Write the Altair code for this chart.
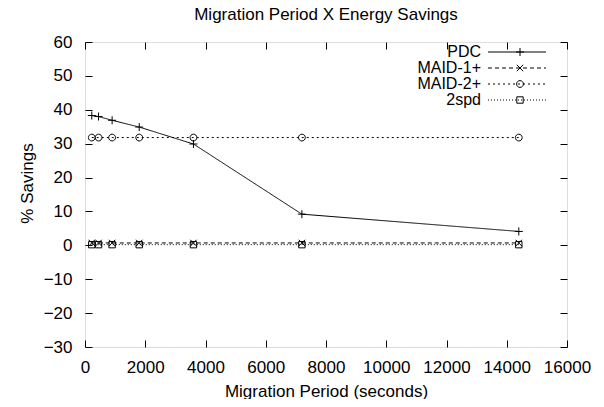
import altair as alt
import pandas as pd

# ---- data ----
periods = [225, 450, 900, 1800, 3600, 7200, 14400]
pdc = [38.3, 38.0, 36.9, 34.9, 29.9, 9.2, 4.1]
maid1 = [0.7, 0.7, 0.7, 0.7, 0.7, 0.7, 0.7]
maid2 = [31.8, 31.8, 31.8, 31.8, 31.8, 31.8, 31.8]
spd2 = [0.2, 0.2, 0.2, 0.2, 0.2, 0.2, 0.2]
series_names = ["PDC", "MAID-1+", "MAID-2+", "2spd"]
x_ticks = [0, 2000, 4000, 6000, 8000, 10000, 12000, 14000, 16000]
y_ticks = [-30, -20, -10, 0, 10, 20, 30, 40, 50, 60]

# marker keys: same names with a trailing space so the two legends stay separate
marker_names = [n + " " for n in series_names]

values = {"PDC": pdc, "MAID-1+": maid1, "MAID-2+": maid2, "2spd": spd2}
rows = []
for name, mname in zip(series_names, marker_names):
    for p, v in zip(periods, values[name]):
        rows.append({"period": p, "savings": v, "series": name, "series_m": mname})
df = pd.DataFrame(rows)

FONT = "Liberation Sans"
FS = 17
LFS = 16
W, H = 482, 305

dashes = [[1, 0], [4, 3], [2, 3], [1, 2]]
shapes = [
    "M-1,0L1,0M0,-1L0,1",
    "M-0.8,-0.8L0.8,0.8M-0.8,0.8L0.8,-0.8",
    "M0.85,0A0.85,0.85 0 1,1 -0.85,0A0.85,0.85 0 1,1 0.85,0Z",
    "M-0.8,-0.8L0.8,-0.8L0.8,0.8L-0.8,0.8Z",
]
# legend sample line drawn to the right of the (right-aligned) label, gnuplot style
sample_line = "M15,0L73,0"

xscale = alt.Scale(domain=[0, 16000], nice=False, zero=False)
yscale = alt.Scale(domain=[-30, 60], nice=False, zero=False)

common_axis = dict(
    offset=-7, tickSize=7, domain=False, grid=False, tickColor="black",
    labelColor="black", labelFont=FONT, labelFontSize=FS, labelFlush=False,
    labelOverlap=False, titleFont=FONT, titleFontSize=FS, titleFontWeight="normal",
    titleColor="black",
)

x_main = alt.X("period:Q", scale=xscale, axis=alt.Axis(
    orient="bottom", values=x_ticks, format="d", title="Migration Period (seconds)",
    labelPadding=12, titlePadding=8, **common_axis))
y_main = alt.Y("savings:Q", scale=yscale, axis=alt.Axis(
    orient="left", values=y_ticks, format="d", title="% Savings",
    labelPadding=13, titleX=-65, titleY=141, titleAlign="center",
    titleBaseline="middle", titleAngle=270, **common_axis))

x_mirror = alt.X("period:Q", scale=xscale, axis=alt.Axis(
    orient="top", values=x_ticks, labels=False, title=None, **common_axis))
y_mirror = alt.Y("savings:Q", scale=yscale, axis=alt.Axis(
    orient="right", values=y_ticks, labels=False, title=None, **common_axis))

lines = alt.Chart(df).mark_line(color="black", strokeWidth=1).encode(
    x=x_main,
    y=y_main,
    strokeDash=alt.StrokeDash(
        "series:N",
        scale=alt.Scale(domain=series_names, range=dashes),
        legend=alt.Legend(
            orient="none", legendX=380, legendY=2, title=None,
            symbolType=sample_line, symbolSize=4, symbolStrokeWidth=1,
            symbolStrokeColor="black", symbolFillColor="transparent",
            labelAlign="right", labelOffset=0,
            labelFont=FONT, labelFontSize=LFS, labelColor="black",
            rowPadding=0, padding=0,
        ),
    ),
)

points = alt.Chart(df).mark_point(filled=False, color="black", strokeWidth=1, size=64, opacity=1).encode(
    x=x_mirror,
    y=y_mirror,
    shape=alt.Shape(
        "series_m:N",
        scale=alt.Scale(domain=marker_names, range=shapes),
        legend=alt.Legend(
            orient="none", legendX=427, legendY=2, title=None,
            symbolSize=64, symbolStrokeWidth=1, symbolStrokeColor="black",
            symbolFillColor="transparent", labelOpacity=0,
            labelFont=FONT, labelFontSize=LFS, rowPadding=0, padding=0,
        ),
    ),
)

chart = alt.layer(lines, points).resolve_axis(x="independent", y="independent").properties(
    width=W,
    height=H,
    autosize=alt.AutoSizeParams(type="none"),
    padding={"left": 77, "top": 34, "right": 29, "bottom": 52},
    title=alt.TitleParams(
        "Migration Period X Energy Savings", font=FONT, fontSize=FS,
        fontWeight="normal", color="black", anchor="middle", offset=9,
    ),
).configure_view(stroke="black", strokeWidth=1).configure(background="white")

chart.save("out.html", embed_options={"renderer": "svg", "actions": False})
